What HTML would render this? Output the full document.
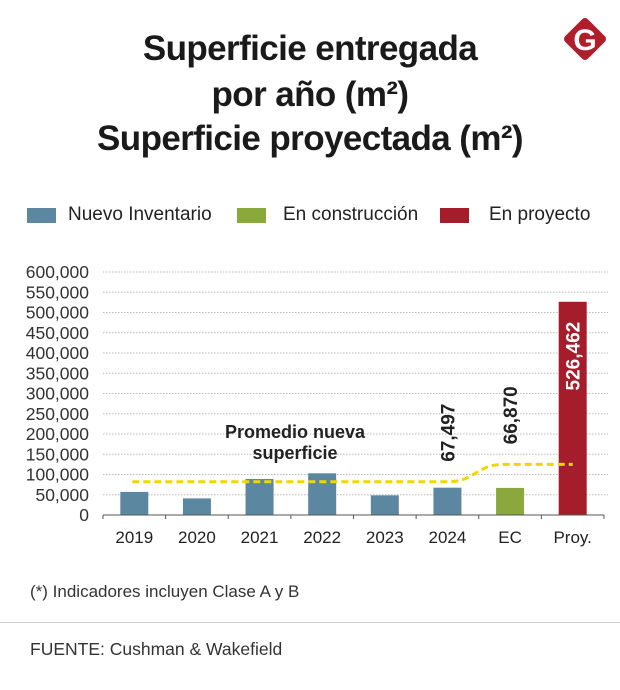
<!DOCTYPE html>
<html><head><meta charset="utf-8"><style>
body{margin:0;width:620px;height:690px;background:#fff;font-family:"Liberation Sans",sans-serif;position:relative;overflow:hidden;color:#222}
.t{position:absolute;left:0;width:620px;text-align:center;font-weight:bold;font-size:35px;letter-spacing:-0.6px;color:#1a1a1a}
.lg{position:absolute;top:204px;font-size:19px;color:#222}
.sw{position:absolute;top:208px;width:29px;height:15px}
</style></head><body>
<div class="t" style="top:29px">Superficie entregada</div>
<div class="t" style="top:75px">por año (m²)</div>
<div class="t" style="top:119px">Superficie proyectada (m²)</div>
<svg style="position:absolute;left:560px;top:14px" width="50" height="50" viewBox="0 0 50 50"><rect x="9" y="9" width="32" height="32" rx="4" fill="#b01e2c" transform="rotate(45 25 25)"/><text x="25" y="36" text-anchor="middle" font-family="Liberation Sans" font-weight="bold" font-size="30" fill="#fff">G</text></svg>
<div class="sw" style="left:27px;background:#5b87a0"></div>
<div class="lg" style="left:68px">Nuevo Inventario</div>
<div class="sw" style="left:237px;background:#8aa83c"></div>
<div class="lg" style="left:283px">En construcción</div>
<div class="sw" style="left:440px;background:#a51d2a"></div>
<div class="lg" style="left:489px">En proyecto</div>
<svg id="chart" style="position:absolute;left:0;top:0" width="620" height="560"></svg>
<div style="position:absolute;left:30px;top:582px;font-size:17px;color:#333">(*) Indicadores incluyen Clase A y B</div>
<div style="position:absolute;left:0;top:622px;width:620px;height:1px;background:#ccc"></div>
<div style="position:absolute;left:30px;top:639px;font-size:17.5px;color:#333">FUENTE: Cushman &amp; Wakefield</div>
<script>
const categories=["2019","2020","2021","2022","2023","2024","EC","Proy."];
const values=[57000,41000,89000,103000,48600,67497,66870,526462];
const avgValues=[82000,82000,82000,82000,82000,82000,125000,125000];
const ticks=[0,50000,100000,150000,200000,250000,300000,350000,400000,450000,500000,550000,600000];
const labels=[null,null,null,null,null,"67,497","66,870","526,462"];
const colors=["#5b87a0","#5b87a0","#5b87a0","#5b87a0","#5b87a0","#5b87a0","#8aa83c","#a51d2a"];
const NS="http://www.w3.org/2000/svg",svg=document.getElementById('chart');
const x0=103,x1=604,y0=515,y1=272,maxV=600000;
const bw=(x1-x0)/categories.length;
const y=v=>y0-(v/maxV)*(y0-y1);
const xc=i=>x0+bw*(i+0.5);
function mk(t,a){const e=document.createElementNS(NS,t);for(const k in a)e.setAttribute(k,a[k]);svg.appendChild(e);return e;}
ticks.forEach(t=>{
 if(t>0){const g=mk('line',{x1:x0,x2:x1+4,y1:y(t),y2:y(t),stroke:'#bbb','stroke-width':1,'stroke-dasharray':'1.5,1.5'});
 
 }
 const l=mk('text',{x:89,y:y(t)+6,'text-anchor':'end','font-size':17.5,fill:'#333','font-family':'Liberation Sans'});
 l.textContent=t.toLocaleString('en-US');
 
 
});
values.forEach((v,i)=>{
 const r=mk('rect',{x:xc(i)-14,y:y(v),width:28,height:y0-y(v),fill:colors[i]});
 
 
 const c=mk('text',{x:xc(i),y:543,'text-anchor':'middle','font-size':17,fill:'#222','font-family':'Liberation Sans'});
 c.textContent=categories[i];
 
 
 if(labels[i]){
  const inside=i===7;
  const top=Math.min(y(v),y(avgValues[i]));
  const ly=inside?y(v)+20:top-20;
  const t=mk('text',{x:xc(i)+7,y:ly,'text-anchor':inside?'end':'start','font-size':19,'font-weight':'bold',fill:inside?'#fff':'#222','font-family':'Liberation Sans',transform:`rotate(-90 ${xc(i)+7} ${ly})`});
  t.textContent=labels[i];
  
  
 }
});
const ax=mk('line',{x1:x0,x2:x1,y1:y0,y2:y0,stroke:'#555','stroke-width':1});


for(let i=0;i<=categories.length;i++){const tk=mk('line',{x1:x0+bw*i,x2:x0+bw*i,y1:y0,y2:y0+4,stroke:'#555'});
 
 }
let d='M'+(xc(0)-2)+' '+y(avgValues[0]);
for(let i=1;i<avgValues.length;i++){
 if(avgValues[i]!==avgValues[i-1]){const xa=xc(i-1),xb=xc(i)-6,m=(xa+xb)/2;d+=` L${xa} ${y(avgValues[i-1])} C${m} ${y(avgValues[i-1])} ${m} ${y(avgValues[i])} ${xb} ${y(avgValues[i])}`;}
 else d+=` L${xc(i)} ${y(avgValues[i])}`;
}
const p=mk('path',{d:d,fill:'none',stroke:'#f2d600','stroke-width':3,'stroke-dasharray':'7,4'});


[['Promedio nueva',438],['superficie',459]].forEach(([s,yy])=>{
 const t=mk('text',{x:295,y:yy,'text-anchor':'middle','font-size':18,'font-weight':'bold',fill:'#222','font-family':'Liberation Sans'});
 t.textContent=s;
 
 
});
</script>
</body></html>
